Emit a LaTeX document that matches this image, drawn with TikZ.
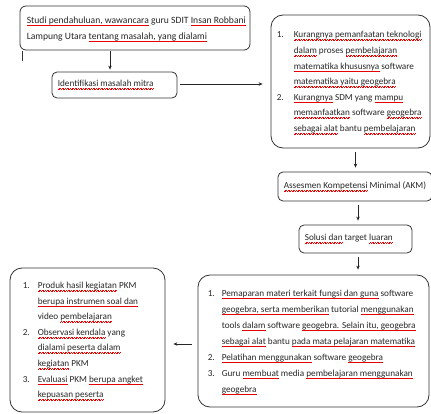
\documentclass[tikz,border=0pt]{standalone}
\usepackage{fontspec}
\setmainfont{Carlito}
\usetikzlibrary{arrows.meta}
\newcommand\rw[1]{\leavevmode\setbox0\hbox{#1}\rlap{\textcolor{red!90!black}{\hbox to\wd0{\xleaders\hbox{\rule[-2.8pt]{0.8pt}{0.6pt}\rule[-2.1pt]{0.8pt}{0.6pt}}\hfil}}}\box0\relax}
\tikzset{
  box/.style={draw=black!80, line width=0.8pt, rounded corners=#1, inner sep=0pt},
  box/.default=5pt,
  txt/.style={font=\fontsize{9.2}{15.6}\selectfont, inner sep=0pt, anchor=west, text=black!85},
  arr/.style={draw=black!85, line width=0.7pt, -{Stealth[length=4pt,width=3.5pt]}},
}
\begin{document}
\begin{tikzpicture}[x=1pt,y=-1pt]
\useasboundingbox (0,0) rectangle (431,414);
% boxes
\node[box=6pt, minimum width=230pt, minimum height=44pt] (b1) at (135,28) {};
\node[box, minimum width=125pt, minimum height=26pt] (b2) at (114.5,85) {};
\node[box=12pt, minimum width=159pt, minimum height=133pt] (b3) at (350.5,81.5) {};
\node[box, minimum width=154pt, minimum height=29pt] (b4) at (355,186.5) {};
\node[box, minimum width=113pt, minimum height=28pt] (b5) at (355.5,239) {};
\node[box=12pt, minimum width=231pt, minimum height=132pt] (b6) at (313.5,341) {};
\node[box=12pt, minimum width=155pt, minimum height=144pt] (b7) at (87.5,340) {};
% texts
\node[txt, font=\fontsize{9.6}{16}\selectfont] (t1) at ([xshift=7pt]b1.west) {\begin{tabular}{@{}l@{}}
\rw{Studi pendahuluan, wawancara} guru SDIT \rw{Insan Robbani}\\
Lampung Utara \rw{tentang masalah, yang dialami}
\end{tabular}};
\node[txt] (t2) at ([xshift=6pt]b2.west) {\rw{Identifikasi masalah mitra}};
\node[txt] (t3) at ([xshift=6pt]b3.west) {\begin{tabular}{@{}p{17pt}@{}l@{}}
1. & \rw{Kurangnya pemanfaatan teknologi}\\
 & \rw{dalam} proses \rw{pembelajaran}\\
 & \rw{matematika khususnya} software\\
 & \rw{matematika yaitu geogebra}\\
2. & \rw{Kurangnya} SDM yang \rw{mampu}\\
 & \rw{memanfaatkan} software \rw{geogebra}\\
 & \rw{sebagai alat} bantu \rw{pembelajaran}
\end{tabular}};
\node[txt] (t4) at ([xshift=6pt]b4.west) {\rw{Assesmen Kompetensi} Minimal (AKM)};
\node[txt] (t5) at ([xshift=6pt]b5.west) {\rw{Solusi dan} target \rw{luaran}};
\node[txt, font=\fontsize{9.2}{16}\selectfont] (t6) at ([xshift=10pt]b6.west) {\begin{tabular}{@{}p{14pt}@{}l@{}}
1. & \rw{Pemaparan materi terkait fungsi dan guna} software\\
 & \rw{geogebra, serta memberikan} tutorial \rw{menggunakan}\\
 & tools \rw{dalam} software \rw{geogebra. Selain itu, geogebra}\\
 & \rw{sebagai alat} bantu \rw{pada mata pelajaran matematika}\\
2. & \rw{Pelatihan menggunakan} software \rw{geogebra}\\
3. & Guru \rw{membuat} media \rw{pembelajaran menggunakan}\\
 & \rw{geogebra}
\end{tabular}};
\node[txt] (t7) at ([xshift=13pt]b7.west) {\begin{tabular}{@{}p{15pt}@{}l@{}}
1. & \rw{Produk hasil kegiatan} PKM\\
 & \rw{berupa instrumen soal dan}\\
 & video \rw{pembelajaran}\\
2. & \rw{Observasi kendala} yang\\
 & \rw{dialami peserta dalam}\\
 & \rw{kegiatan} PKM\\
3. & \rw{Evaluasi} PKM \rw{berupa angket}\\
 & \rw{kepuasan peserta}
\end{tabular}};
% stray mark
\coordinate (m1) at (22,51);
\coordinate (m2) at (22,61);
\draw[black!80, line width=0.7pt] (m1) -- (m2);
% connectors
\draw[arr] ([xshift=-4.5pt,yshift=-1pt]b1.south -| b2.north) -- ([xshift=-4.5pt,yshift=2pt]b2.north);
\draw[arr] ([xshift=3pt,yshift=1pt]b2.east) -- ([xshift=-8pt,yshift=1pt]b3.west |- b2.east);
\draw[arr] ([xshift=5pt,yshift=-4pt]b3.south) -- ([xshift=5pt,yshift=4pt]b3.south |- b4.north);
\draw[arr] ([xshift=3pt,yshift=-4pt]b4.south) -- ([xshift=3pt,yshift=4pt]b4.south |- b5.north);
\draw[arr] ([xshift=2.5pt,yshift=-4pt]b5.south) -- ([xshift=2.5pt,yshift=5pt]b5.south |- b6.north);
\draw[arr] ([xshift=-6pt,yshift=-3pt]b6.west) -- ([xshift=8pt,yshift=-3pt]b7.east |- b6.west);
\end{tikzpicture}
\end{document}
